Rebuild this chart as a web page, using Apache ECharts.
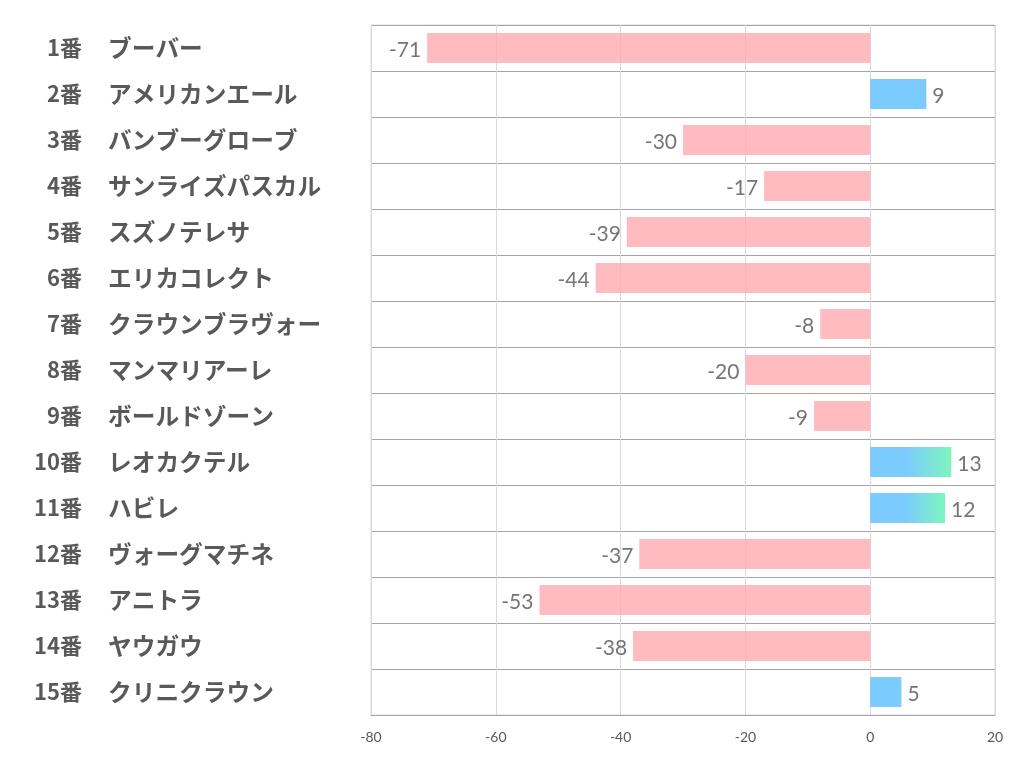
<!DOCTYPE html>
<html><head><meta charset="utf-8">
<script src="https://cdn.jsdelivr.net/npm/echarts@6/dist/echarts.min.js"></script>
<style>html,body{margin:0;padding:0;background:#fff}#c{width:1022px;height:782px}</style>
</head><body><div id="c"></div>
<script>
const numbers = ['1番','2番','3番','4番','5番','6番','7番','8番','9番','10番','11番','12番','13番','14番','15番'];
const names = ['ブーバー','アメリカンエール','バンブーグローブ','サンライズパスカル','スズノテレサ','エリカコレクト','クラウンブラヴォー','マンマリアーレ','ボールドゾーン','レオカクテル','ハビレ','ヴォーグマチネ','アニトラ','ヤウガウ','クリニクラウン'];
const values = [-71, 9, -30, -17, -39, -44, -8, -20, -9, 13, 12, -37, -53, -38, 5];
const gradientIdx = [9, 10];
const xTicks = { min: -80, max: 20, interval: 20 };

const pink = 'rgba(255,170,175,0.8)';
const blue = '#7ccbff';
const grad = new echarts.graphic.LinearGradient(0, 0, 1, 0, [
  { offset: 0, color: '#7ccbff' }, { offset: 0.45, color: '#7ccbff' }, { offset: 1, color: '#7df5bd' }
]);

const data = values.map((v, i) => ({
  value: v,
  itemStyle: { color: v < 0 ? pink : (gradientIdx.includes(i) ? grad : blue) },
  label: { position: v < 0 ? 'left' : 'right' }
}));

const labelFont = { fontWeight: 'bold', color: '#595959', fontFamily: 'Noto Sans CJK JP' };

const chart = echarts.init(document.getElementById('c'));
chart.setOption({
  animation: false,
  grid: { left: 371, right: 27, top: 25, bottom: 67, show: true, borderColor: '#d9d9d9', borderWidth: 1 },
  xAxis: {
    type: 'value', min: xTicks.min, max: xTicks.max, interval: xTicks.interval,
    axisLine: { show: true, lineStyle: { color: '#a6a6a6', width: 1 } },
    axisTick: { show: false },
    splitLine: { show: true, lineStyle: { color: '#d9d9d9', width: 1 } },
    axisLabel: { color: '#595959', fontSize: 14, fontFamily: 'Lato', margin: 15 }
  },
  yAxis: [{
    type: 'category', inverse: true, data: numbers, position: 'left',
    axisLine: { show: false, onZero: false },
    axisTick: { show: false },
    splitLine: { show: true, interval: 0, lineStyle: { color: '#a6a6a6', width: 1 } },
    axisLabel: Object.assign({ align: 'right', margin: 289, fontSize: 22 }, labelFont)
  }, {
    type: 'category', inverse: true, data: names, position: 'left', offset: 0,
    axisLine: { show: false, onZero: false },
    axisTick: { show: false },
    splitLine: { show: false },
    axisLabel: Object.assign({ align: 'left', margin: 263, fontSize: 23.7 }, labelFont)
  }],
  series: [{
    type: 'bar', data: data, barCategoryGap: '35%', yAxisIndex: 0,
    label: { show: true, distance: 6, offset: [0, 2], color: '#757575', fontSize: 21, fontFamily: 'Lato' }
  }]
});
</script></body></html>
